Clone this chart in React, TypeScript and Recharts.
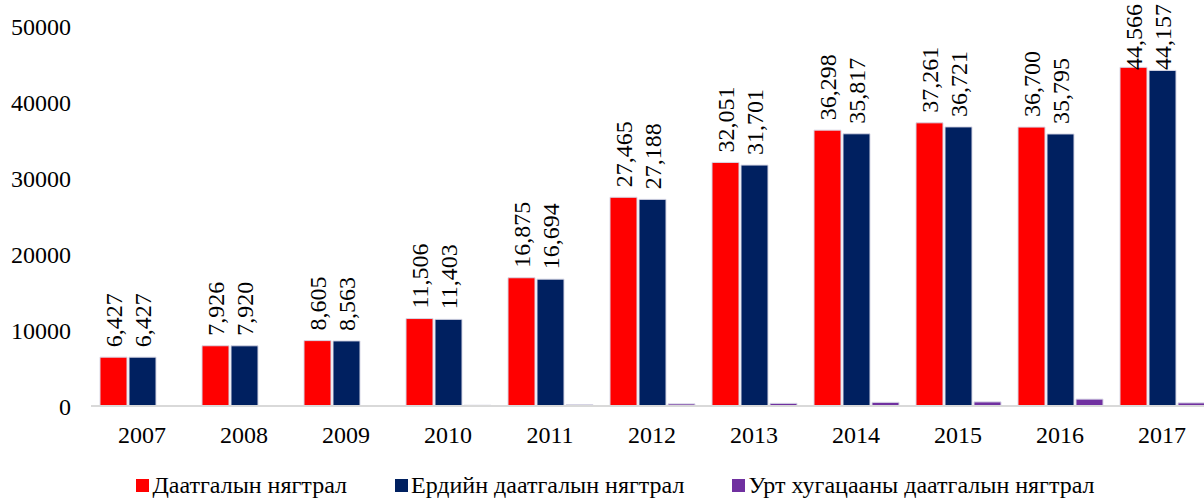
import { Bar, BarChart, LabelList, Legend, XAxis, YAxis } from 'recharts'

const years = ['2007', '2008', '2009', '2010', '2011', '2012', '2013', '2014', '2015', '2016', '2017']
const insuranceDensity = [6427, 7926, 8605, 11506, 16875, 27465, 32051, 36298, 37261, 36700, 44566]
const generalDensity = [6427, 7920, 8563, 11403, 16694, 27188, 31701, 35817, 36721, 35795, 44157]
const longTermDensity = [0, 6, 42, 103, 181, 277, 350, 481, 540, 905, 409]
const yTicks = [0, 10000, 20000, 30000, 40000, 50000]

const FONT = "'Liberation Serif', 'Times New Roman', serif"
const FS = 24

const data = years.map((year, i) => ({
  year,
  a: insuranceDensity[i],
  b: generalDensity[i],
  c: longTermDensity[i],
}))

function RotatedLabel(props: any) {
  const { x, y, width, value } = props
  if (value == null) return null
  const text = Number(value).toLocaleString('en-US')
  // rough text length: digits 0.5em, comma 0.25em
  const len = [...text].reduce((s, ch) => s + (ch === ',' ? 0.25 : 0.5), 0) * FS
  const cx = x + width / 2
  const start = Math.max(y - 10, 4 + len)
  return (
    <text
      x={cx}
      y={start}
      dy="0.35em"
      transform={`rotate(-90, ${cx}, ${start})`}
      textAnchor="start"
      style={{ fontFamily: FONT, fontSize: FS }}
      fill="#000"
    >
      {text}
    </text>
  )
}

function ChartLegend({ payload }: { payload?: Array<{ value?: string; color?: string }> }) {
  if (!payload) return null
  return (
    <div
      style={{
        display: 'flex',
        justifyContent: 'center',
        gap: 48,
        paddingTop: 14,
        paddingLeft: 18,
        lineHeight: '26px',
        fontFamily: FONT,
        fontSize: FS,
        color: '#000',
      }}
    >
      {payload.map((item) => (
        <span key={item.value} style={{ display: 'inline-flex', alignItems: 'center' }}>
          <span style={{ width: 13, height: 13, background: item.color, marginRight: 3, display: 'inline-block' }} />
          {item.value}
        </span>
      ))}
    </div>
  )
}

export default function App() {
  return (
    <div style={{ position: 'absolute', left: 0, top: 0, width: 1204, height: 498, overflow: 'hidden', background: '#fff', fontFamily: FONT }}>
      <style>{`.recharts-wrapper text { font-family: ${FONT}; }`}</style>
      <BarChart
        width={1214}
        height={498}
        data={data}
        margin={{ top: 26, right: 1, bottom: 0, left: 0 }}
        barSize={27}
        barGap={2}
      >
        <XAxis
          dataKey="year"
          height={52}
          tickLine={false}
          tickSize={0}
          tickMargin={20}
          axisLine={{ stroke: '#d9d9d9', strokeWidth: 2 }}
          tick={{ fontSize: FS, fill: '#000' }}
        />
        <YAxis
          width={91}
          domain={[0, 50000]}
          ticks={yTicks}
          interval={0}
          axisLine={false}
          tickLine={false}
          tickSize={0}
          tickMargin={20}
          tick={{ fontSize: FS, fill: '#000' }}
        />
        <Legend verticalAlign="bottom" height={40} content={<ChartLegend />} />
        <Bar dataKey="a" name="Даатгалын нягтрал" fill="#ff0000" stroke="#d8d8e6" strokeWidth={1} isAnimationActive={false}>
          <LabelList dataKey="a" content={<RotatedLabel />} />
        </Bar>
        <Bar dataKey="b" name="Ердийн даатгалын нягтрал" fill="#002060" stroke="#d8d8e6" strokeWidth={1} isAnimationActive={false}>
          <LabelList dataKey="b" content={<RotatedLabel />} />
        </Bar>
        <Bar dataKey="c" name="Урт хугацааны даатгалын нягтрал" fill="#7030a0" stroke="#d8d8e6" strokeWidth={1} isAnimationActive={false} />
      </BarChart>
    </div>
  )
}
